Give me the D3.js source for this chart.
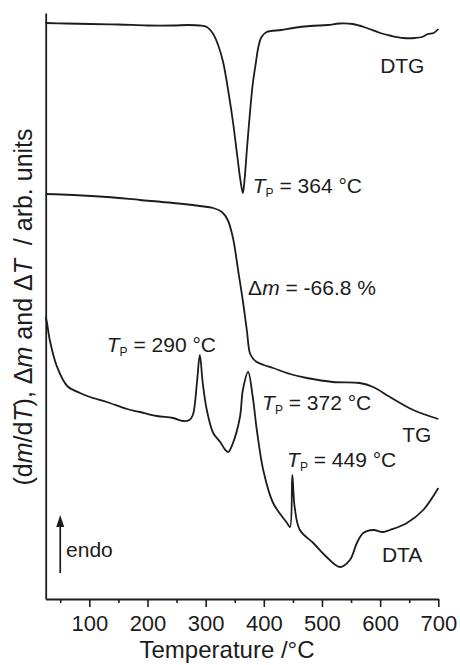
<!DOCTYPE html>
<html>
<head>
<meta charset="utf-8">
<script src="https://cdn.jsdelivr.net/npm/d3@7"></script>
<style>
  body { margin: 0; background: #fff; }
  svg { display: block; font-family: Arial, "Liberation Sans", sans-serif; }
</style>
</head>
<body>
<div id="root"></div>
<script>
// Temperature (°C) and signal (arb. units)
const dtgTemp = [25, 60, 101, 150, 200, 244, 270, 290, 302, 313, 322, 330, 340, 347, 355, 360, 364, 367, 371, 376, 381, 386, 391, 396, 405, 430, 450, 480, 510, 530, 553, 577, 600, 620, 640, 660, 672, 682, 692, 700];
const dtgValue = [576, 575.5, 575, 574.5, 573.5, 573.5, 574, 573.5, 572, 565, 553, 537, 504, 477, 440, 418, 406, 420, 450, 485, 515, 535, 553, 562, 567, 569, 571, 573, 574, 575.5, 575, 571, 566, 563, 561, 561, 562, 565, 566, 570];

const tgTemp = [25, 72, 130, 187, 244, 290, 313, 328, 338, 347, 356, 364, 371, 376, 382, 388, 400, 416, 445, 474, 519, 565, 588, 617, 657, 700];
const tgValue = [405, 404, 402, 399, 396, 393, 391, 387, 379, 361, 328, 298, 268, 246, 240, 237, 234, 231, 225, 221, 217, 216, 212, 202, 189, 180];

const dtaTemp = [25, 27, 32, 44, 62, 84, 101, 130, 165, 187, 216, 244, 261, 272, 278, 285, 290, 295, 302, 313, 325, 334, 339, 347, 359, 364, 373, 381, 388, 399, 416, 440, 445, 449, 453, 462, 485, 508, 531, 548, 560, 571, 588, 605, 617, 646, 674, 700];
const dtaValue = [282, 277, 259, 233, 213, 206, 202, 197, 190, 187, 183, 181, 178, 179, 184, 216, 244, 216, 189, 166, 157, 149, 147, 156, 182, 209, 227, 202, 169, 129, 96, 76, 72, 124, 92, 69, 56, 42, 32, 39, 56, 66, 69, 67, 69, 76, 89, 111];

const majorTicks = [100, 200, 300, 400, 500, 600, 700];
const minorTicks = [50, 150, 250, 350, 450, 550, 650];

// Annotations: [temperature, value, text parts]
const curveLabels = [
  { t: 600, v: 526, text: "DTG" },
  { t: 638, v: 157, text: "TG" },
  { t: 603, v: 37, text: "DTA" },
  { t: 60, v: 42, text: "endo" }
];
const peakLabels = [
  { t: 381, v: 406, temp: "364" },
  { t: 130, v: 247, temp: "290" },
  { t: 397, v: 189, temp: "372" },
  { t: 440, v: 132, temp: "449" }
];
const massLoss = { t: 373, v: 304, value: "-66.8" };
const endoArrow = { t: 50, from: 26, to: 84 };

const w = 460;
const h = 665;

const svg = d3.select("#root")
  .append("svg")
  .attr("width", w)
  .attr("height", h);

const x = d3.scaleLinear().domain([25, 700]).range([45.7, 438.3]);
const y = d3.scaleLinear().domain([0, 586]).range([599, 13]);

const ink = "#1c1c1c";

// Curves
const line = d3.line()
  .x(d => x(d[0]))
  .y(d => y(d[1]))
  .curve(d3.curveCatmullRom.alpha(0.5));

[[dtgTemp, dtgValue], [tgTemp, tgValue], [dtaTemp, dtaValue]].forEach(([ts, vs]) => {
  svg.append("path")
    .datum(ts.map((t, i) => [t, vs[i]]))
    .attr("fill", "none")
    .attr("stroke", ink)
    .attr("stroke-width", 1.8)
    .attr("stroke-linejoin", "round")
    .attr("d", line);
});

// X axis, major and minor ticks
const xMajor = svg.append("g")
  .attr("transform", `translate(0, ${y(0)})`)
  .call(d3.axisBottom(x).tickValues(majorTicks).tickSize(8).tickSizeOuter(0).tickPadding(8));
xMajor.select(".domain").attr("stroke", ink).attr("stroke-width", 1.8);
xMajor.selectAll(".tick line").attr("stroke", ink).attr("stroke-width", 1.6);
xMajor.selectAll(".tick text")
  .attr("fill", ink)
  .style("font-size", "22px")
  .style("font-family", "Arial, 'Liberation Sans', sans-serif");

const xMinor = svg.append("g")
  .attr("transform", `translate(0, ${y(0)})`)
  .call(d3.axisBottom(x).tickValues(minorTicks).tickSize(4).tickSizeOuter(0).tickFormat(""));
xMinor.select(".domain").remove();
xMinor.selectAll(".tick line").attr("stroke", ink).attr("stroke-width", 1.6);

// Y axis, line only
const yAxis = svg.append("g")
  .attr("transform", `translate(${x(25)}, 0)`)
  .call(d3.axisLeft(y).tickValues([]).tickSizeOuter(0));
yAxis.select(".domain").attr("stroke", ink).attr("stroke-width", 1.8);

// Axis titles
svg.append("text")
  .attr("x", 227)
  .attr("y", 658)
  .attr("text-anchor", "middle")
  .attr("fill", ink)
  .style("font-size", "24px")
  .text("Temperature /°C");

const yTitle = svg.append("text")
  .attr("transform", "translate(32, 307) rotate(-90)")
  .attr("text-anchor", "middle")
  .attr("fill", ink)
  .style("font-size", "25px");
[["(d", false], ["m", true], ["/d", false], ["T", true], ["), Δ", false], ["m", true], [" and Δ", false], ["T", true], ["  / arb. units", false]]
  .forEach(([s, it]) => {
    yTitle.append("tspan")
      .style("font-style", it ? "italic" : "normal")
      .attr("xml:space", "preserve")
      .text(s);
  });

// Curve names and "endo"
svg.selectAll(".curve-label")
  .data(curveLabels)
  .enter()
  .append("text")
  .attr("class", "curve-label")
  .attr("x", d => x(d.t))
  .attr("y", d => y(d.v))
  .attr("fill", ink)
  .style("font-size", "21px")
  .text(d => d.text);

// Peak temperatures
const peaks = svg.selectAll(".peak-label")
  .data(peakLabels)
  .enter()
  .append("text")
  .attr("class", "peak-label")
  .attr("x", d => x(d.t))
  .attr("y", d => y(d.v))
  .attr("fill", ink)
  .style("font-size", "21px");
peaks.append("tspan").style("font-style", "italic").text("T");
peaks.append("tspan").attr("dy", 4).style("font-size", "12px").text("P");
peaks.append("tspan").attr("dy", -4).text(d => ` = ${d.temp} °C`);

// Mass loss
const ml = svg.append("text")
  .attr("x", x(massLoss.t))
  .attr("y", y(massLoss.v))
  .attr("fill", ink)
  .style("font-size", "21px");
ml.append("tspan").text("Δ");
ml.append("tspan").style("font-style", "italic").text("m");
ml.append("tspan").text(` = ${massLoss.value} %`);

// Endo arrow
svg.append("line")
  .attr("x1", x(endoArrow.t))
  .attr("x2", x(endoArrow.t))
  .attr("y1", y(endoArrow.from))
  .attr("y2", y(endoArrow.to) + 6)
  .attr("stroke", ink)
  .attr("stroke-width", 1.7);
svg.append("path")
  .attr("d", `M${x(endoArrow.t) - 4},${y(endoArrow.to) + 12} L${x(endoArrow.t)},${y(endoArrow.to)} L${x(endoArrow.t) + 4},${y(endoArrow.to) + 12} Z`)
  .attr("fill", ink);
</script>
</body>
</html>
